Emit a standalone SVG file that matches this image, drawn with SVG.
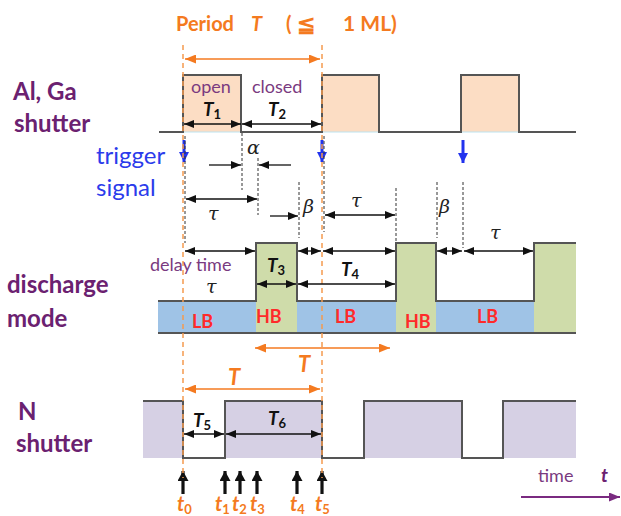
<svg xmlns="http://www.w3.org/2000/svg" width="621" height="516" viewBox="0 0 621 516">
<style>
.lbl{font-family:Lato,"Open Sans",sans-serif;font-weight:bold;font-size:24px;fill:#6B2170}
.pur{font-family:Lato,"Open Sans",sans-serif;font-size:18px;fill:#7A3A80}
.blue{font-family:Lato,"Open Sans",sans-serif;font-size:24px;fill:#2B3BEB}
.tt{font-family:Lato,"Open Sans",sans-serif;font-weight:bold;font-style:italic;font-size:19px;fill:#111}
.sub{font-style:normal;font-size:13px}
.gr{font-family:"DejaVu Serif",serif;font-style:italic;font-size:19px;fill:#222}
.red{font-family:Lato,"Open Sans",sans-serif;font-weight:bold;font-size:18px;fill:#FF2A2A}
.org{font-family:Lato,"Open Sans",sans-serif;font-weight:bold;fill:#F47A20}
.wave{fill:none;stroke:#555;stroke-width:2}
.dim{stroke:#111;stroke-width:1.3;fill:none}
.dbl{marker-start:url(#ah);marker-end:url(#ah)}
.end{marker-end:url(#ah)}
.odim{stroke:#F47A20;stroke-width:1.5;fill:none;marker-start:url(#oh);marker-end:url(#oh)}
.odash{stroke:#F59A4F;stroke-width:1.5;stroke-dasharray:5,4;fill:none}
.kdot{stroke:#333;stroke-width:1;stroke-dasharray:3,2;fill:none}
.bArr{stroke:#2233EE;stroke-width:3;fill:none;marker-end:url(#bh)}
.kArr{stroke:#111;stroke-width:3.2;fill:none;marker-end:url(#kh)}
</style>
<defs>
<marker id="ah" markerUnits="userSpaceOnUse" markerWidth="10" markerHeight="8" refX="10" refY="4" orient="auto-start-reverse"><path d="M0,0 L10,4 L0,8 z" fill="#111"/></marker>
<marker id="oh" markerUnits="userSpaceOnUse" markerWidth="11" markerHeight="9" refX="11" refY="4.5" orient="auto-start-reverse"><path d="M0,0 L11,4.5 L0,9 z" fill="#F47A20"/></marker>
<marker id="bh" markerUnits="userSpaceOnUse" markerWidth="11" markerHeight="10" refX="10" refY="5" orient="auto"><path d="M0,0 L10,5 L0,10 z" fill="#2233EE"/></marker>
<marker id="kh" markerUnits="userSpaceOnUse" markerWidth="11" markerHeight="11" refX="10" refY="5.5" orient="auto"><path d="M0,0 L10,5.5 L0,11 z" fill="#111"/></marker>
<marker id="ph" markerUnits="userSpaceOnUse" markerWidth="11" markerHeight="9" refX="11" refY="4.5" orient="auto"><path d="M0,0 L11,4.5 L0,9 z" fill="#7A2A80"/></marker>
</defs>
<rect width="621" height="516" fill="#fff"/>

<g id="title">
<text class="org" x="176" y="31" font-size="20">Period</text>
<text class="org" x="251" y="31" font-size="20" font-style="italic">T</text>
<text class="org" x="286" y="31" font-size="20">(</text>
<text class="org" x="297" y="32" font-size="22" font-family="'Noto Sans CJK JP',sans-serif" font-weight="normal">≦</text>
<text class="org" x="343" y="31" font-size="21">1 ML)</text>
</g>

<g id="al-ga-shutter">
<text class="lbl" x="13" y="100">Al, Ga</text>
<text class="lbl" x="14" y="132">shutter</text>
<rect x="183" y="75" width="58" height="57" fill="#FCDDC4"/>
<rect x="322" y="75" width="57" height="57" fill="#FCDDC4"/>
<rect x="461" y="75" width="58" height="57" fill="#FCDDC4"/>
<path d="M183,132 H241 M322,132 H379 M461,132 H519" stroke="#BDE3F0" stroke-width="1"/>
<path class="wave" d="M159,132 H183 V75 H241 V132 H322 V75 H379 V132 H461 V75 H519 V132 H576"/>
<text class="pur" x="191" y="93">open</text>
<text class="pur" x="252" y="93">closed</text>
<text class="tt" x="203" y="116">T<tspan class="sub" dy="3">1</tspan></text>
<text class="tt" x="268" y="116">T<tspan class="sub" dy="3">2</tspan></text>
</g>

<g id="trigger-signal">
<text class="blue" x="96" y="164">trigger</text>
<text class="blue" x="96" y="196">signal</text>
<line class="bArr" x1="184" y1="140" x2="184" y2="162"/>
<line class="bArr" x1="322" y1="140" x2="322" y2="162"/>
<line class="bArr" x1="463" y1="140" x2="463" y2="163"/>
</g>

<g id="discharge-mode">
<text class="lbl" x="7" y="293">discharge</text>
<text class="lbl" x="7" y="327">mode</text>
<rect x="158" y="301" width="418" height="32" fill="#9FC3E6"/>
<rect x="256" y="243" width="41" height="90" fill="#CFDCAA"/>
<rect x="396" y="243" width="40" height="90" fill="#CFDCAA"/>
<rect x="534" y="243" width="42" height="90" fill="#CFDCAA"/>
<path class="wave" d="M158,301 H256 V243 H297 V301 H396 V243 H436 V301 H534 V243 H576"/>
<path class="wave" d="M158,333 H576"/>
<text class="red" x="192" y="328">LB</text>
<text class="red" x="256" y="323">HB</text>
<text class="red" x="335" y="323">LB</text>
<text class="red" x="405" y="328">HB</text>
<text class="red" x="477" y="323">LB</text>
<text class="pur" x="150" y="271" font-size="20">delay time</text>
<text class="tt" x="267" y="272">T<tspan class="sub" dy="3">3</tspan></text>
<text class="tt" x="341" y="276">T<tspan class="sub" dy="3">4</tspan></text>
</g>

<g id="n-shutter">
<text class="lbl" x="18" y="420">N</text>
<text class="lbl" x="16" y="452">shutter</text>
<rect x="143" y="401" width="40" height="57" fill="#D6D0E4"/>
<rect x="225" y="401" width="97" height="57" fill="#D6D0E4"/>
<rect x="364" y="401" width="98" height="57" fill="#D6D0E4"/>
<rect x="503" y="401" width="73" height="57" fill="#D6D0E4"/>
<path class="wave" d="M143,401 H183 V458 H225 V401 H322 V458 H364 V401 H462 V458 H503 V401 H576"/>
<text class="tt" x="193" y="427">T<tspan class="sub" dy="3">5</tspan></text>
<text class="tt" x="268" y="425">T<tspan class="sub" dy="3">6</tspan></text>
</g>

<g id="time-axis">
<text class="pur" x="538" y="482" font-size="24">time</text>
<text class="tt" x="601" y="482" font-size="21" style="fill:#6B2170">t</text>
<line x1="521" y1="497" x2="620" y2="497" stroke="#7A2A80" stroke-width="2" marker-end="url(#ph)"/>
</g>

<g id="time-markers">
<line class="kArr" x1="183" y1="494" x2="183" y2="471"/>
<line class="kArr" x1="225" y1="494" x2="225" y2="471"/>
<line class="kArr" x1="240" y1="494" x2="240" y2="471"/>
<line class="kArr" x1="257" y1="494" x2="257" y2="471"/>
<line class="kArr" x1="297" y1="494" x2="297" y2="471"/>
<line class="kArr" x1="322" y1="494" x2="322" y2="471"/>
<text class="org" x="177" y="511" font-size="20" font-style="italic">t<tspan font-size="13" font-style="normal" dy="3">0</tspan></text>
<text class="org" x="215" y="511" font-size="20" font-style="italic">t<tspan font-size="13" font-style="normal" dy="3">1</tspan></text>
<text class="org" x="232" y="511" font-size="20" font-style="italic">t<tspan font-size="13" font-style="normal" dy="3">2</tspan></text>
<text class="org" x="250" y="511" font-size="20" font-style="italic">t<tspan font-size="13" font-style="normal" dy="3">3</tspan></text>
<text class="org" x="290" y="511" font-size="20" font-style="italic">t<tspan font-size="13" font-style="normal" dy="3">4</tspan></text>
<text class="org" x="315" y="511" font-size="20" font-style="italic">t<tspan font-size="13" font-style="normal" dy="3">5</tspan></text>
</g>

<g id="connectors">
<line class="odash" x1="183" y1="45" x2="183" y2="478"/>
<line class="odash" x1="322" y1="45" x2="322" y2="478"/>
<line class="kdot" x1="185" y1="136" x2="185" y2="243"/>
<line class="kdot" x1="324" y1="136" x2="324" y2="232"/>
<line class="kdot" x1="242" y1="133" x2="242" y2="190"/>
<line class="kdot" x1="258" y1="158" x2="258" y2="215"/>
<line class="kdot" x1="299" y1="182" x2="299" y2="238"/>
<line class="kdot" x1="396" y1="188" x2="396" y2="243"/>
<line class="kdot" x1="437" y1="182" x2="437" y2="238"/>
<line class="kdot" x1="463" y1="182" x2="463" y2="248"/>

<line class="odim" x1="185" y1="59" x2="320" y2="59"/>
<line class="odim" x1="255" y1="348" x2="390" y2="348"/>
<line class="odim" x1="185" y1="389" x2="320" y2="389"/>
<text class="org" x="298" y="372" font-size="22" font-style="italic">T</text>
<text class="org" x="228" y="385" font-size="22" font-style="italic">T</text>

<line class="dim dbl" x1="184" y1="124" x2="241" y2="124"/>
<line class="dim dbl" x1="242" y1="124" x2="321" y2="124"/>
<line class="dim end" x1="209" y1="165" x2="241" y2="165"/>
<line class="dim end" x1="291" y1="165" x2="259" y2="165"/>
<text class="gr" x="247" y="154">α</text>
<line class="dim dbl" x1="186" y1="199" x2="257" y2="199"/>
<text class="gr" x="208" y="220">τ</text>
<line class="dim end" x1="270" y1="216" x2="298" y2="216"/>
<text class="gr" x="303" y="213">β</text>
<line class="dim dbl" x1="325" y1="215" x2="395" y2="215"/>
<text class="gr" x="351" y="207">τ</text>
<text class="gr" x="439" y="213">β</text>
<text class="gr" x="490" y="239">τ</text>

<line class="dim dbl" x1="185" y1="251" x2="255" y2="251"/>
<line class="dim dbl" x1="298" y1="251" x2="321" y2="251"/>
<line class="dim dbl" x1="323" y1="251" x2="395" y2="251"/>
<line class="dim dbl" x1="437" y1="251" x2="462" y2="251"/>
<line class="dim dbl" x1="464" y1="251" x2="533" y2="251"/>
<text class="gr" x="206" y="293">τ</text>
<line class="dim dbl" x1="257" y1="284" x2="296" y2="284"/>
<line class="dim dbl" x1="298" y1="284" x2="395" y2="284"/>

<line class="dim dbl" x1="184" y1="434" x2="224" y2="434"/>
<line class="dim dbl" x1="226" y1="434" x2="321" y2="434"/>
</g>
</svg>
